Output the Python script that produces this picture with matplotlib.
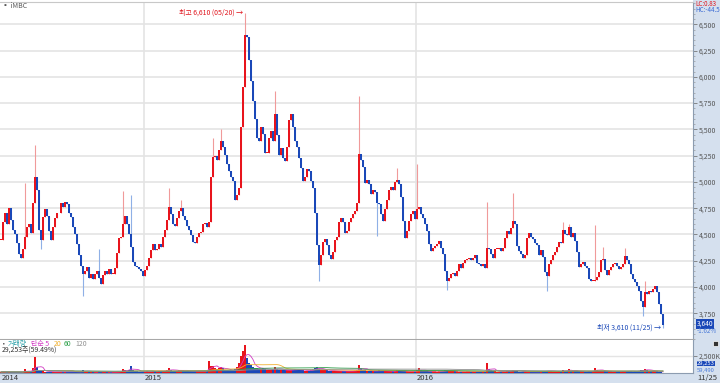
import numpy as np
import pandas as pd
import matplotlib
matplotlib.use('Agg')
import matplotlib.pyplot as plt
from matplotlib.patches import Rectangle
from matplotlib.ticker import MultipleLocator, FixedLocator

plt.rcParams['font.family'] = ['Noto Sans CJK KR', 'DejaVu Sans']

# closing prices (one point per ~2 trading days)
close = [
    4450, 4620, 4700, 4600, 4750, 4640, 4540, 4500, 4420, 4315,
    4280, 4360, 4480, 4570, 4600, 4510, 4800, 5050, 4925, 4540,
    4445, 4670, 4740, 4680, 4530, 4445, 4570, 4660, 4700, 4700,
    4795, 4765, 4810, 4790, 4700, 4670, 4570, 4500, 4410, 4300,
    4200, 4125, 4155, 4190, 4090, 4125, 4080, 4120, 4150, 4090,
    4030, 4110, 4150, 4125, 4170, 4125, 4125, 4180, 4320, 4470,
    4480, 4600, 4680, 4600, 4500, 4380, 4240, 4200, 4190, 4170,
    4150, 4100, 4160, 4200, 4280, 4350, 4410, 4350, 4360, 4410,
    4380, 4475, 4540, 4640, 4765,
    4690, 4600, 4580, 4660, 4720, 4750, 4680, 4640, 4580, 4540,
    4495, 4430, 4420, 4480, 4510, 4525, 4600, 4610, 4570, 4620,
    5050, 5240, 5250, 5210, 5300, 5390, 5330, 5260, 5170, 5100,
    5050, 5010, 4830, 4880, 4945, 5520, 5900, 6400, 6380, 6160,
    5965, 5775, 5600, 5420, 5390, 5520, 5455, 5280, 5280, 5420,
    5485, 5390, 5650, 5450, 5260, 5325, 5230, 5200, 5330, 5585,
    5650, 5520, 5390, 5330, 5230, 5135, 5010, 5050, 5120, 5100,
    5010, 4945, 4700, 4400, 4205, 4300, 4430, 4460, 4400, 4300,
    4270, 4335, 4450, 4480, 4620, 4655, 4620, 4510, 4530, 4620,
    4655, 4690, 4720, 4800,
    5270, 5205, 5140, 4990, 5015, 4980, 4885, 4920, 4900, 4800,
    4790, 4695, 4630, 4740, 4830, 4920, 4950, 4920, 5000, 5015,
    4980, 4855, 4630, 4470, 4530, 4630, 4695, 4725, 4645, 4740,
    4760, 4695, 4660, 4600, 4530, 4405, 4340, 4375, 4390, 4410,
    4440, 4375, 4310, 4150, 4055, 4085, 4120, 4135, 4100, 4150,
    4215, 4180, 4230, 4260, 4270, 4280, 4260, 4280, 4300, 4230,
    4215, 4200, 4215, 4180, 4375, 4360, 4310, 4280, 4360, 4360,
    4375, 4340, 4375, 4470, 4535, 4500, 4565, 4630, 4600, 4390,
    4340, 4310, 4280, 4300,
    4470, 4510, 4480, 4460, 4420, 4400, 4300, 4350, 4285, 4140,
    4100, 4220, 4255, 4300, 4330, 4380, 4430, 4415, 4540, 4500,
    4490, 4575, 4480, 4510, 4440, 4330, 4190, 4220, 4240, 4200,
    4180, 4080, 4060, 4060, 4070, 4095, 4140, 4255, 4270, 4160,
    4115, 4160, 4190, 4220, 4225, 4195, 4175, 4190, 4220, 4290,
    4260, 4220, 4125, 4080, 4050, 4010, 3965, 3870, 3805, 3950,
    3930, 3965, 3950, 3980, 4005, 3950, 3840, 3740, 3640,
]

# long wicks visible on the chart (bar index -> price)
wick_high = {12: 4990, 17: 5355, 49: 4365, 61: 4910, 65: 4880, 84: 4940,
             90: 4830, 106: 5420, 110: 5500, 122: 6610, 137: 5870,
             179: 5820, 198: 5135, 208: 5175, 243: 4805, 256: 4895,
             281: 4620, 284: 4600, 297: 4590, 301: 4380, 312: 4370,
             322: 4060}
wick_low = {20: 4365, 41: 3915, 159: 4060, 188: 4485, 223: 3975,
            273: 3965, 321: 3725, 331: 3610}

# volume in thousand shares
volume_k = [
    150, 180, 160, 140, 200, 170, 150, 140, 160, 150,
    130, 150, 600, 250, 200, 180, 700, 2300, 900, 400,
    300, 250, 200, 180, 220, 200, 160, 150, 180, 170,
    200, 180, 220, 170, 160, 150, 180, 200, 170, 150,
    250, 400, 300, 200, 180, 160, 170, 150, 140, 350,
    160, 170, 150, 140, 160, 150, 140, 160, 170, 200,
    300, 600, 400, 300, 500, 1100, 500, 300, 250, 200,
    180, 160, 200, 250, 220, 200, 300, 250, 220, 300,
    280, 260, 350, 400, 700, 500, 350, 300, 280, 500,
    450, 380, 300, 280, 260, 300, 280, 260, 250, 300,
    320, 280, 260, 300, 1700, 1100, 1000, 800, 600, 700,
    900, 700, 500, 450, 400, 420, 380, 600, 900, 1500,
    2500, 3200, 4100, 2200, 1500, 1200, 900, 800, 700, 600,
    650, 700, 600, 500, 450, 500, 550, 900, 600, 500,
    450, 400, 420, 380, 400, 450, 500, 600, 500, 450,
    400, 380, 350, 330, 350, 400, 600, 800, 900, 600,
    500, 450, 400, 380, 360, 340, 330, 320, 300, 280,
    300, 280, 260, 250, 280, 300, 320, 340, 400, 1200,
    700, 500, 400, 350, 300, 280, 260, 300, 350, 400,
    320, 300, 280, 260, 250, 240, 260, 300, 500, 400,
    300, 260, 250, 240, 230, 250, 300, 260, 400, 700,
    400, 300, 250, 240, 260, 280, 250, 230, 220, 240,
    300, 350, 400, 500, 350, 300, 260, 240, 230, 220,
    210, 200, 220, 230, 240, 220, 200, 190, 200, 210,
    220, 200, 190, 1470, 600, 400, 300, 250, 220, 200,
    190, 200, 210, 230, 260, 280, 450, 300, 250, 220,
    200, 190, 180, 190, 200, 180, 170, 160, 180, 200,
    220, 250, 300, 350, 300, 250, 220, 200, 210, 230,
    250, 500, 300, 280, 600, 350, 300, 280, 260, 250,
    240, 230, 220, 210, 230, 250, 300, 740, 500, 350,
    300, 280, 260, 250, 240, 230, 220, 210, 200, 210,
    220, 240, 260, 250, 240, 230, 220, 250, 300, 350,
    400, 500, 600, 450, 350, 300, 280, 260, 300, 150,
    90, 29.253,
]

ma_windows = [5, 20, 60, 120]
ma_colors = ['#d23cc4', '#f0b030', '#2ea04a', '#909090']
year_labels = ['2014', '2015', '2016']
year_pos = [0, 71.5, 207.5]
price_ticks = [3750, 4000, 4250, 4500, 4750, 5000, 5250, 5500, 5750, 6000, 6250, 6500]

UP, DOWN = '#e8141c', '#1a48b8'
UP_W, DOWN_W = '#f09a9a', '#8fb0e6'
STRIP = '#d5e0ee'

close = np.array(close, dtype=float)
n = len(close)
idx = np.arange(n)
open_ = np.r_[close[0], close[:-1]]
high = np.maximum(open_, close)
low = np.minimum(open_, close)
for i, v in wick_high.items():
    high[i] = max(high[i], v)
for i, v in wick_low.items():
    low[i] = min(low[i], v)
up = close >= open_

W, H = 720, 383
def fx(px):
    return px / W
def fy(py):
    return 1 - py / H

fig = plt.figure(figsize=(7.2, 3.83), dpi=100)
fig.patches.append(Rectangle((fx(693), 0), 1 - fx(693), 1, transform=fig.transFigure,
                             facecolor=STRIP, edgecolor='none', zorder=-5))
fig.patches.append(Rectangle((0, 0), 1, fy(373), transform=fig.transFigure,
                             facecolor=STRIP, edgecolor='none', zorder=-5))

ax = fig.add_axes([0, fy(340), fx(693), fy(2) - fy(340)])
axv = fig.add_axes([0, fy(373), fx(693), fy(340) - fy(373)], sharex=ax)

# price panel
for y in price_ticks:
    ax.axhline(y, color='#e4e4e4', lw=1.2, zorder=0)
for x in year_pos[1:]:
    ax.axvline(x, color='#e4e4e4', lw=1.2, zorder=0)
    axv.axvline(x, color='#e4e4e4', lw=1.2, zorder=0)

ax.vlines(idx, low, high, colors=np.where(up, UP_W, DOWN_W), lw=0.8, zorder=2)
body = np.maximum(np.abs(close - open_), 8)
ax.bar(idx, body, bottom=np.minimum(open_, close), width=0.7,
       color=np.where(up, UP, DOWN), linewidth=0, zorder=3)

ax.set_xlim(-0.5, 346)
ax.set_ylim(3495, 6713)
ax.yaxis.tick_right()
ax.yaxis.set_major_locator(FixedLocator(price_ticks))
ax.set_yticklabels([f'{v:,}' for v in price_ticks])
ax.yaxis.set_minor_locator(MultipleLocator(50))
ax.tick_params(axis='y', which='major', direction='out', length=3, width=0.6,
               colors='#777777', labelcolor='#555555', labelsize=5, pad=1)
ax.tick_params(axis='y', which='minor', direction='out', length=1.2, width=0.5, colors='#999999')
ax.tick_params(axis='x', length=0, labelbottom=False)
ax.spines['left'].set_visible(False)
ax.spines['top'].set_color('#c8c8c8')
ax.spines['right'].set_color('#8c9cb0')
ax.spines['right'].set_linewidth(0.8)
ax.spines['bottom'].set_color('#a8a8a8')
ax.spines['bottom'].set_linewidth(1.5)

i_max = int(np.argmax(high))
ax.text(i_max - 0.8, high[i_max], f'최고 {int(high[i_max]):,} (05/20) →', color='#e0141c',
        fontsize=5, ha='right', va='center')
i_min = n - 1
ax.text(i_min - 0.8, low[i_min], f'최저 {int(low[i_min]):,} (11/25) →', color='#1a48b8',
        fontsize=5, ha='right', va='center')

# volume panel
vol = np.array(volume_k, dtype=float)
axv.bar(idx, vol, width=0.7, color=np.where(up, UP, DOWN), linewidth=0, zorder=3)
vs = pd.Series(vol)
for w, c in zip(ma_windows, ma_colors):
    axv.plot(idx, vs.rolling(w, min_periods=1).mean(), color=c, lw=0.6, zorder=4)
axv.axhline(2500, color='#e4e4e4', lw=1.0, zorder=0)
axv.set_ylim(0, 4850)
axv.yaxis.tick_right()
axv.set_yticks([2500])
axv.set_yticklabels(['2,500K'])
axv.tick_params(axis='y', direction='out', length=3, width=0.6, colors='#777777',
                labelcolor='#555555', labelsize=5, pad=1)
axv.tick_params(axis='x', length=0, labelbottom=False)
axv.spines['left'].set_visible(False)
axv.spines['top'].set_visible(False)
axv.spines['right'].set_color('#8c9cb0')
axv.spines['right'].set_linewidth(0.8)
axv.spines['bottom'].set_color('#8c9cb0')
axv.spines['bottom'].set_linewidth(0.8)

# labels around the panels
fig.text(fx(2), fy(6), '▪ iMBC', color='#555555', fontsize=5, va='center')
fig.text(fx(695), fy(3.5), 'LC:0.83', color='#e0141c', fontsize=4.5, va='center')
fig.text(fx(695), fy(10.5), 'HC:-44.5', color='#3a6ad4', fontsize=4.5, va='center')
fig.text(fx(697), fy(324), f'{int(close[-1]):,}', color='white', fontsize=4.8, va='center',
         bbox=dict(boxstyle='square,pad=0.12', fc='#1a48b8', ec='none'))
fig.text(fx(697), fy(331), '-1.62%', color='#4a7ad8', fontsize=4.5, va='center')

fig.text(fx(1), fy(344), '▪', color='#666666', fontsize=4, va='center')
fig.text(fx(8), fy(344), '거래량', color='#2aa0a8', fontsize=5, va='center')
fig.text(fx(31), fy(344), '단순 5', color=ma_colors[0], fontsize=5, va='center')
fig.text(fx(54), fy(344), '20', color=ma_colors[1], fontsize=5, va='center')
fig.text(fx(64), fy(344), '60', color=ma_colors[2], fontsize=5, va='center')
fig.text(fx(75), fy(344), '120', color=ma_colors[3], fontsize=5, va='center')
fig.text(fx(2), fy(351), f'{vol[-1] * 1000:,.0f}주(59.49%)', color='#333333', fontsize=5, va='center')
fig.patches.append(Rectangle((fx(713), fy(346)), fx(5), 5 / H, transform=fig.transFigure,
                             facecolor='#333333', edgecolor='white', lw=0.5, zorder=5))
fig.text(fx(697), fy(363.5), f'{vol[-1] * 1000:,.0f}', color='white', fontsize=4.2, va='center',
         bbox=dict(boxstyle='square,pad=0.08', fc='#1a48b8', ec='none'))
fig.text(fx(697), fy(370.5), '59,490', color='#4a7ad8', fontsize=4.2, va='center')

for lab, p in zip(year_labels, year_pos):
    xpx = max(p * 2, 0)
    fig.text(fx(xpx + 2), fy(378), lab, color='#333333', fontsize=5.5, va='center')
fig.text(fx(697), fy(378), '11/25', color='#333333', fontsize=5.5, va='center')

fig.savefig('out.png', dpi=100, facecolor='white')
